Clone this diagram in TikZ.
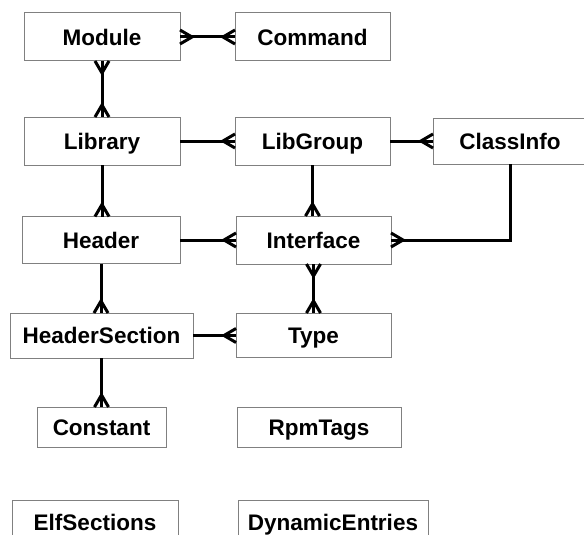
\documentclass[tikz,border=0pt]{standalone}
\usepackage{fontspec}
\setmainfont{Liberation Sans}
\usetikzlibrary{arrows.meta}
\pgfdeclarearrow{
  name = Crow,
  parameters = {\the\pgfarrowlength,\the\pgfarrowwidth},
  setup code = {
    \pgfarrowssettipend{0pt}
    \pgfarrowssetlineend{0pt}
    \pgfarrowssetvisualbackend{-\pgfarrowlength}
    \pgfarrowssetbackend{-\pgfarrowlength}
    \pgfarrowshullpoint{0pt}{.5\pgfarrowwidth}
    \pgfarrowshullpoint{0pt}{-.5\pgfarrowwidth}
    \pgfarrowshullpoint{-\pgfarrowlength}{0pt}
    \pgfarrowssavethe\pgfarrowlength
    \pgfarrowssavethe\pgfarrowwidth
  },
  drawing code = {
    \pgfsetdash{}{0pt}
    \pgfsetmiterjoin
    \pgfpathmoveto{\pgfqpoint{0pt}{.5\pgfarrowwidth}}
    \pgfpathlineto{\pgfqpoint{-\pgfarrowlength}{0pt}}
    \pgfpathlineto{\pgfqpoint{0pt}{-.5\pgfarrowwidth}}
    \pgfusepathqstroke
  },
  defaults = {length = 12pt, width = 14pt}
}
\definecolor{boxline}{HTML}{808080}
\tikzset{
  entity/.style={draw=boxline, line width=1pt, rectangle, inner sep=0pt, outer sep=0pt,
    text height=16.1pt, text depth=0pt,
    font=\fontsize{22.5}{27}\selectfont\bfseries, text=black},
  conn/.style={draw=black, line width=3pt},
  many/.style={-{Crow}},
  manymany/.style={{Crow}-{Crow}},
}
\begin{document}
\begin{tikzpicture}[x=1pt,y=-1pt]
\fill[white] (0,0) rectangle (584,535);
\useasboundingbox (0,0) rectangle (584,535);
\clip (0,0) rectangle (584,535);
\node[entity, minimum width=156pt, minimum height=48pt] (module) at (102,37) {Module};
\node[entity, minimum width=155pt, minimum height=48pt] (command) at (312.5,37) {Command};
\node[entity, minimum width=156pt, minimum height=48pt] (library) at (102,141) {Library};
\node[entity, minimum width=155pt, minimum height=48pt] (libgroup) at (312.5,141) {LibGroup};
\node[entity, minimum width=154pt, minimum height=46pt] (classinfo) at (510,141) {ClassInfo};
\node[entity, minimum width=158pt, minimum height=47pt] (header) at (101,240) {Header};
\node[entity, minimum width=155pt, minimum height=48pt] (interface) at (313.5,240) {Interface};
\node[entity, minimum width=183pt, minimum height=45pt] (headersection) at (101.5,335.5) {HeaderSection};
\node[entity, minimum width=155pt, minimum height=44pt] (type) at (313.5,335) {Type};
\node[entity, minimum width=129pt, minimum height=40pt] (constant) at (101.5,427) {Constant};
\node[entity, minimum width=164pt, minimum height=40pt] (rpmtags) at (319,427) {RpmTags};
\node[entity, minimum width=166pt, minimum height=44pt] (elfsections) at (95,522) {ElfSections};
\node[entity, minimum width=190pt, minimum height=44pt] (dynamicentries) at (333,522) {DynamicEntries};
% connectors
\draw[conn, manymany] (module.east) -- (command.west);
\draw[conn, manymany] (module.south) -- (module.south |- library.north);
\draw[conn, many] (library.east) -- (libgroup.west);
\draw[conn, many] (libgroup.east) -- (classinfo.west);
\draw[conn, many] (library.south) -- (library.south |- header.north);
\draw[conn, many] (libgroup.south) -- (libgroup.south |- interface.north);
\draw[conn, many] (classinfo.south) |- (interface.east);
\draw[conn, many] (header.east) -- (interface.west);
\draw[conn, manymany] (interface.south) -- (interface.south |- type.north);
\draw[conn, many] (header.south) -- (header.south |- headersection.north);
\draw[conn, many] (headersection.east) -- (headersection.east -| type.west);
\draw[conn, many] (headersection.south) -- (headersection.south |- constant.north);
\end{tikzpicture}
\end{document}
